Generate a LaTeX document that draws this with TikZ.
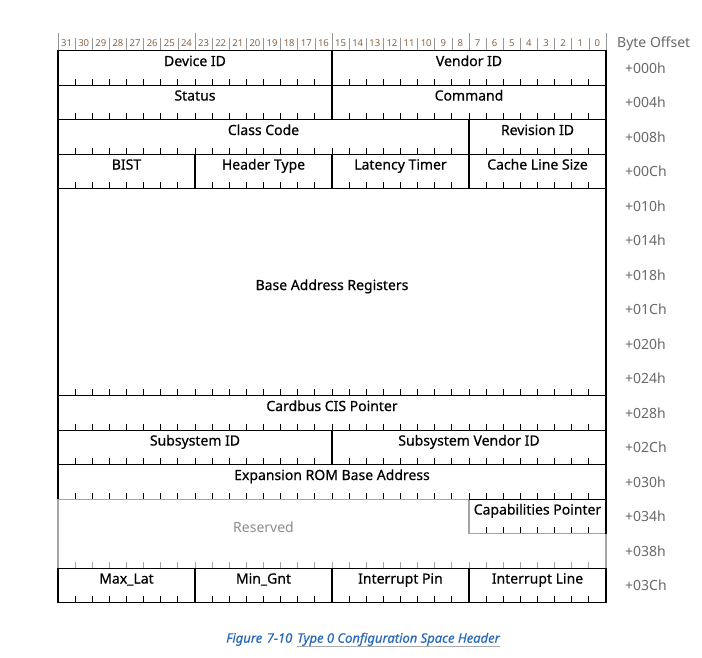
\documentclass[tikz,border=0pt]{standalone}
\usepackage{fontspec}
\setmainfont{Noto Sans}
\newfontfamily\lblfont{Noto Sans}[FakeBold=0.5]
\newfontfamily\capfont{Noto Sans Italic}[FakeBold=0.4]
\definecolor{bitc}{RGB}{135,100,70}
\definecolor{offc}{RGB}{105,105,105}
\definecolor{resc}{RGB}{140,140,140}
\definecolor{resl}{RGB}{165,165,165}
\definecolor{sepc}{RGB}{150,150,150}
\definecolor{capc}{RGB}{40,105,185}
\definecolor{ulc}{RGB}{170,170,170}
\tikzset{
  box/.style={draw=black, line width=1.4pt},
  tickl/.style={draw=black, line width=1pt},
  gline/.style={draw=resl, line width=1.4pt},
  gtick/.style={draw=resl, line width=1pt},
  lbl/.style={anchor=base, font=\lblfont\fontsize{14}{16}\selectfont, inner sep=0pt},
  reslbl/.style={anchor=base, font=\fontsize{14}{16}\selectfont, text=resc, inner sep=0pt},
  bitnum/.style={anchor=base, font=\fontsize{9.5}{10}\selectfont, text=bitc, inner sep=0pt},
  offs/.style={anchor=base west, font=\fontsize{14}{16}\selectfont, text=offc, inner sep=0pt},
  hsep/.style={draw=sepc, line width=0.7pt},
  captxt/.style={anchor=base west, font=\capfont\fontsize{13}{15}\selectfont, text=capc, inner sep=0pt},
  uline/.style={draw=ulc, line width=0.9pt},
}
\newcommand{\pcifld}[4]{%
  \pgfmathsetmacro\xa{606-#1*17.125}%
  \pgfmathsetmacro\xb{606-#2*17.125}%
  \pgfmathsetmacro\ya{50.7+#3*34.5}%
  \pgfmathsetmacro\yb{\ya+34.5}%
  \pgfmathsetmacro\xm{(\xa+\xb)/2}%
  \pgfmathtruncatemacro\klo{#2+1}%
  \pgfmathtruncatemacro\khi{#1-1}%
  \foreach \k in {\klo,...,\khi}{\draw[tickl] ({606-\k*17.125},\yb) -- ++(0,-6.5);}%
  \draw[box] (\xa,\ya) rectangle (\xb,\yb);%
  \node[lbl] (f-#3-#2) at (\xm,\ya+15.3) {#4};%
}
\begin{document}
\begin{tikzpicture}[x=1pt,y=-1pt]
\useasboundingbox[fill=white] (0,0) rectangle (702,657);

% header bit numbers
\foreach \b in {0,...,31}{
  \node[bitnum] (bit\b) at ({606-(\b+0.5)*17.125},46.8) {\b};
}
\foreach \k in {1,...,31}{
  \pgfmathtruncatemacro\mm{mod(\k,8)}
  \ifnum\mm=0\relax
    \draw[hsep] ({606-\k*17.125},32.5) -- ({606-\k*17.125},49.5);
  \else
    \draw[hsep] ({606-\k*17.125},38) -- ({606-\k*17.125},49.5);
  \fi
}
\draw[hsep] (606,32.5) -- (606,49.5);
\draw[hsep] (58,32.5) -- (58,49.5);
\node[offs] (boff) at (617,47.3) {Byte Offset};

% byte offsets
\foreach \o [count=\i from 0] in {000,004,008,00C,010,014,018,01C,020,024,028,02C,030,034,038,03C}{
  \node[offs] (off\i) at (625,{50.7+(\i+0.5)*34.5+5.5}) {+\o h};
}

% fields
\pcifld{32}{16}{0}{Device ID}
\pcifld{16}{0}{0}{Vendor ID}
\pcifld{32}{16}{1}{Status}
\pcifld{16}{0}{1}{Command}
\pcifld{32}{8}{2}{Class Code}
\pcifld{8}{0}{2}{Revision ID}
\pcifld{32}{24}{3}{BIST}
\pcifld{24}{16}{3}{Header Type}
\pcifld{16}{8}{3}{Latency Timer}
\pcifld{8}{0}{3}{Cache Line Size}

% base address registers
\foreach \k in {1,...,31}{\draw[tickl] ({606-\k*17.125},395.7) -- ++(0,-6.5);}
\draw[box] (58,188.7) rectangle (606,395.7);
\node[lbl] (bar) at (332,290) {Base Address Registers};

\pcifld{32}{0}{10}{Cardbus CIS Pointer}
\pcifld{32}{16}{11}{Subsystem ID}
\pcifld{16}{0}{11}{Subsystem Vendor ID}
\pcifld{32}{0}{12}{Expansion ROM Base Address}

% reserved area
\foreach \k in {1,...,31}{\draw[gtick] ({606-\k*17.125},568.2) -- ++(0,-6.5);}
\draw[gline] (58,499.2) -- (469,499.2);
\draw[gline] (58,499.2) -- (58,568.2);
\draw[gline] (606,533.7) -- (606,568.2);
\node[reslbl] (res) at (263.5,532.5) {Reserved};

% capabilities pointer
\foreach \k in {1,...,7}{\draw[tickl] ({606-\k*17.125},533.7) -- ++(0,-6.5);}
\draw[gline] (469,499.2) -- (469,533.7) -- (606,533.7);
\draw[box] (469,499.2) -- (606,499.2) -- (606,533.7);
\node[lbl] (capp) at (537.5,514.5) {Capabilities Pointer};

\pcifld{32}{24}{15}{Max\_Lat}
\pcifld{24}{16}{15}{Min\_Gnt}
\pcifld{16}{8}{15}{Interrupt Pin}
\pcifld{8}{0}{15}{Interrupt Line}

% caption
\node[captxt] (cap1) at (226,642.7) {Figure\hspace{0.35em}7-10};
\node[captxt] (cap2) at (297,642.7) {Type 0 Configuration Space Header};
\draw[uline] ([yshift=-4pt]cap2.base west) -- ([yshift=-4pt]cap2.base east);
\end{tikzpicture}
\end{document}
